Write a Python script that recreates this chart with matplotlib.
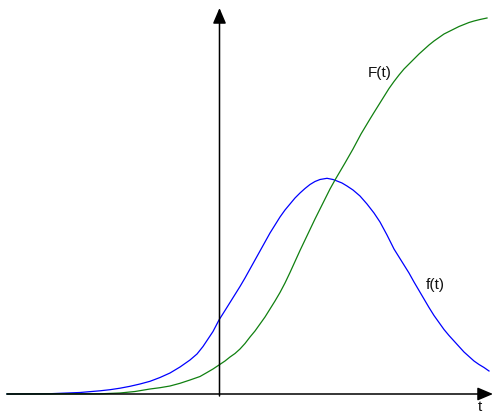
import matplotlib
matplotlib.use("Agg")
import matplotlib.pyplot as plt

# Blue curve f(t): horizontal position and vertical pixel row
f_t = [7, 50, 80, 100, 110, 120, 130, 140, 150, 160, 170, 180, 190, 197, 203,
       208, 213, 219, 225, 230, 235, 240, 245, 250, 255, 260, 265, 270, 275,
       280, 285, 290, 295, 300, 305, 310, 315, 320, 327, 333, 337, 342, 347,
       353, 360, 367, 374, 380, 387, 394, 399, 404, 409, 414, 419, 424, 429,
       434, 439, 444, 449, 454, 459, 464, 469, 474, 479, 484, 489]
f_y_px = [395, 394.7, 393.5, 391.8, 390.7, 389.2, 387.3, 385, 382.3, 378.5,
          374, 368, 361, 355, 347.5, 340, 332.5, 321, 311.5, 303.5, 295.5,
          287.5, 279, 270, 261, 252, 243, 234, 226, 218, 211, 205, 199, 194,
          189.5, 185.5, 182.5, 180.5, 179.3, 180.5, 182, 184, 187, 191, 197,
          205, 214, 223, 236, 250, 258, 266, 274, 283, 291.5, 300, 308.5, 316.5,
          323.5, 330.5, 336.5, 342, 347.5, 353, 357.5, 362, 365.5, 368.5, 372]

# Green curve F(t)
F_t = [7, 100, 120, 135, 150, 160, 170, 180, 190, 200, 207, 213, 219, 225, 230,
       235, 240, 245, 250, 255, 260, 265, 270, 275, 280, 285, 290, 295, 300,
       305, 310, 315, 320, 325, 330, 335, 345, 353, 361, 370, 374, 379, 384,
       389, 394, 399, 404, 409, 414, 419, 424, 429, 434, 439, 444, 449, 454,
       459, 464, 469, 474, 480, 487]
F_y_px = [395, 394.8, 394, 392.5, 390, 388.7, 387, 384.3, 381, 377.5, 373.5,
          370, 366, 362, 358, 354.5, 350, 344.5, 338, 332, 325, 318, 310, 302,
          293.5, 284, 273.5, 262.5, 251.5, 241, 230.5, 220, 210, 200, 190, 181,
          164, 150, 135, 120, 113.5, 105.5, 97.5, 89.5, 82.5, 76, 70, 65, 60,
          55, 50.5, 46, 42, 38.5, 35, 32.5, 30, 27.5, 25.5, 23.5, 22, 20.5, 19]

BASE = 395
f_vals = [BASE - v for v in f_y_px]
F_vals = [BASE - v for v in F_y_px]

labels = {"F(t)": (380, BASE - 73), "f(t)": (435, BASE - 285)}

plt.rcParams['font.family'] = ['Liberation Sans', 'DejaVu Sans']

fig = plt.figure(figsize=(4.94, 4.14), dpi=100)
ax = fig.add_axes([0, 0, 1, 1])
ax.set_xlim(0, 494)
ax.set_ylim(BASE - 414, BASE)
ax.axis('off')

arrow = dict(arrowstyle='-|>,head_length=0.47,head_width=0.2',
             color='black', lw=1.1, mutation_scale=20, shrinkA=0, shrinkB=0)
ax.annotate('', xy=(493, 0), xytext=(7, 0), arrowprops=arrow)
ax.annotate('', xy=(219.5, BASE - 9), xytext=(219.5, -2), arrowprops=arrow)

ax.plot(f_t, f_vals, color='#0000ff', lw=0.9, solid_joinstyle='round')
ax.plot(F_t, F_vals, color='#108010', lw=0.9, solid_joinstyle='round')

for txt, (x, y) in labels.items():
    ax.text(x, y, txt, fontsize=11, ha='center', va='center', color='#111111')
ax.text(479.5, BASE - 414, 't', fontsize=11, ha='center', va='bottom',
        color='#111111')

fig.savefig('out.png', dpi=100)
